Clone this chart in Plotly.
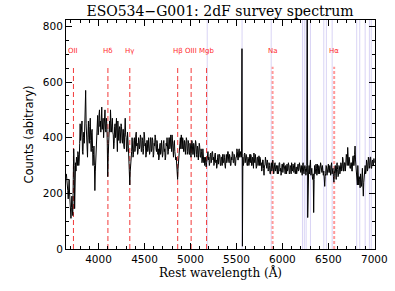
import plotly.graph_objects as go

wave_step = 5
block_starts = [3650 + 100 * k for k in range(34)]
flux_blocks = [
    [270, 255, 240, 210, 180, 230, 250, 200, 150, 130, 110, 150, 190, 140, 120, 250, 360, 300, 145, 200],
    [310, 280, 330, 300, 300, 350, 340, 300, 320, 380, 450, 390, 410, 460, 460, 350, 340, 400, 420, 380],
    [480, 420, 570, 450, 400, 340, 330, 410, 460, 400, 380, 440, 470, 390, 350, 420, 430, 360, 300, 340],
    [370, 300, 210, 280, 330, 400, 440, 470, 480, 410, 420, 480, 500, 440, 460, 420, 490, 510, 430, 470],
    [470, 400, 440, 480, 500, 430, 420, 470, 450, 380, 260, 330, 380, 440, 460, 420, 500, 450, 420, 470],
    [470, 420, 410, 360, 380, 440, 450, 400, 430, 470, 400, 350, 460, 420, 390, 430, 440, 380, 410, 450],
    [440, 390, 380, 430, 430, 370, 360, 420, 470, 410, 400, 350, 350, 420, 400, 360, 320, 280, 230, 280],
    [300, 340, 350, 400, 380, 330, 340, 390, 400, 350, 360, 410, 420, 370, 380, 340, 350, 400, 390, 360],
    [370, 410, 400, 350, 350, 400, 390, 340, 360, 420, 410, 370, 380, 330, 340, 390, 390, 350, 360, 400],
    [380, 340, 350, 400, 400, 350, 360, 400, 390, 330, 340, 380, 370, 410, 400, 360, 350, 390, 380, 340],
    [360, 320, 330, 370, 380, 340, 350, 390, 370, 330, 340, 380, 390, 350, 360, 320, 330, 380, 370, 400],
    [380, 340, 350, 400, 400, 360, 370, 410, 390, 350, 410, 380, 360, 330, 380, 390, 350, 340, 320, 330],
    [300, 270, 250, 290, 320, 360, 350, 380, 400, 360, 410, 380, 360, 400, 390, 350, 350, 390, 380, 340],
    [360, 400, 390, 340, 350, 390, 380, 340, 340, 380, 370, 330, 350, 390, 380, 340, 340, 380, 370, 330],
    [350, 390, 380, 340, 330, 370, 360, 320, 340, 380, 370, 330, 330, 360, 350, 310, 320, 360, 340, 310],
    [330, 300, 310, 330, 295, 310, 320, 350, 350, 320, 330, 300, 310, 340, 345, 310, 320, 350, 350, 320],
    [330, 300, 310, 340, 345, 310, 320, 290, 300, 330, 340, 305, 315, 340, 335, 300, 300, 330, 330, 300],
    [340, 310, 310, 340, 330, 300, 290, 320, 340, 310, 320, 350, 350, 320, 310, 340, 330, 300, 300, 330],
    [320, 350, 345, 310, 310, 340, 335, 300, 300, 330, 330, 360, 350, 320, 320, 355, 360, 330, 330, 350],
    [340, 330, 720, 10, 330, 300, 310, 340, 345, 310, 320, 340, 335, 300, 300, 330, 325, 300, 310, 340],
    [310, 340, 335, 300, 300, 330, 325, 290, 345, 320, 310, 340, 320, 290, 295, 330, 330, 300, 315, 335],
    [300, 330, 325, 300, 310, 280, 290, 320, 320, 290, 265, 300, 300, 330, 315, 290, 290, 320, 310, 280],
    [285, 310, 300, 270, 270, 300, 310, 280, 290, 320, 300, 270, 280, 305, 310, 280, 295, 300, 285, 270],
    [300, 270, 280, 310, 310, 280, 290, 265, 275, 305, 305, 275, 285, 310, 300, 270, 270, 300, 295, 270],
    [305, 280, 285, 310, 300, 270, 275, 300, 295, 270, 310, 285, 280, 305, 300, 275, 290, 310, 270, 280],
    [295, 270, 280, 305, 305, 280, 285, 310, 300, 275, 275, 300, 290, 265, 300, 310, 280, 270, 295, 300],
    [290, 265, 275, 300, 1000, 113, 250, 280, 300, 270, 300, 320, 265, 290, 290, 260, 250, 270, 131, 250],
    [300, 270, 280, 305, 290, 265, 305, 280, 270, 300, 295, 270, 285, 310, 300, 275, 275, 300, 290, 265],
    [280, 250, 225, 260, 270, 300, 295, 265, 280, 305, 305, 275, 275, 300, 290, 265, 300, 310, 270, 280],
    [290, 260, 240, 270, 280, 300, 270, 250, 300, 310, 285, 260, 265, 300, 295, 270, 280, 310, 305, 280],
    [290, 330, 320, 280, 280, 310, 310, 280, 300, 340, 330, 300, 365, 330, 300, 330, 320, 290, 290, 310],
    [310, 280, 280, 330, 335, 300, 300, 340, 370, 320, 290, 250, 260, 230, 300, 280, 230, 260, 250, 220],
    [270, 240, 225, 280, 290, 230, 190, 240, 260, 300, 300, 270, 280, 320, 310, 280, 290, 330, 320, 290],
    [300, 330, 330, 290, 290, 315, 320, 300, 300, 325, 310],
]

wave, flux = [], []
for start, block in zip(block_starts, flux_blocks):
    for i, v in enumerate(block):
        wave.append(start + wave_step * i)
        flux.append(v)

line_names = ["OII", "Hδ", "Hγ", "Hβ", "OIII", "Mgb", "Na", "Hα"]
line_waves = [3727, 4102, 4340, 4861, 5007, 5175, 5893, 6563]
line_light = [False, False, False, False, False, False, True, True]
line_top = 655
label_y = 713

sky_waves = [5182, 5561, 5878, 6218, 6238, 6258, 6305, 6450, 6478, 6541,
             6808, 6841, 6900, 6946, 6966]

x_ticks = [4000, 4500, 5000, 5500, 6000, 6500, 7000]
y_ticks = [0, 200, 400, 600, 800]

fig = go.Figure()

for w in sky_waves:
    fig.add_shape(type="line", xref="x", yref="paper", x0=w, x1=w, y0=0, y1=1,
                  line=dict(color="#d9d4f5", width=1), layer="below")

for name, w, light in zip(line_names, line_waves, line_light):
    col = "#ff9a9a" if light else "#f23a3a"
    fig.add_trace(go.Scatter(x=[w, w], y=[0, line_top], mode="lines",
                             line=dict(color=col, width=2 if light else 1,
                                       dash="3px,2px" if light else "5px,3px"),
                             hoverinfo="skip", showlegend=False))
    fig.add_annotation(x=w, y=label_y, text=name, showarrow=False,
                       font=dict(family="DejaVu Sans", size=7, color="#ff2a2a"),
                       xanchor="center", yanchor="middle")

fig.add_trace(go.Scatter(x=wave, y=flux, mode="lines",
                         line=dict(color="black", width=1),
                         showlegend=False))

axis_common = dict(showgrid=False, zeroline=False, showline=True, linecolor="black",
                   linewidth=1, mirror="allticks", ticks="inside", tickcolor="black",
                   automargin=False,
                   tickfont=dict(family="DejaVu Sans", size=10.5, color="black"))

fig.update_xaxes(range=[3646, 7007], tickvals=x_ticks, ticklen=6,
                 minor=dict(dtick=100, tick0=0, ticklen=3, ticks="inside", tickcolor="black"),
                 title=dict(text="Rest wavelength (Å)", standoff=4,
                            font=dict(family="DejaVu Serif", size=12, color="black")),
                 **axis_common)
fig.update_yaxes(range=[0, 823], tickvals=y_ticks, ticklen=6,
                 minor=dict(dtick=50, tick0=0, ticklen=3, ticks="inside", tickcolor="black"),
                 title=dict(text="Counts (abitrary)", standoff=6,
                            font=dict(family="DejaVu Sans", size=11.5, color="black")),
                 **axis_common)

fig.update_layout(
    width=395, height=291,
    margin=dict(l=66, r=20, t=20, b=42),
    paper_bgcolor="white", plot_bgcolor="white",
    title=dict(text="ESO534−G001: 2dF survey spectrum", x=0.557, xanchor="center",
               y=0.962, yanchor="middle",
               font=dict(family="DejaVu Serif", size=14, color="black")),
)

# remove the default 8 px page margin so the figure fills the window exactly
fig.write_html("out.html",
               config={"displayModeBar": False},
               post_script="document.body.style.margin='0px';document.body.style.overflow='hidden';")
